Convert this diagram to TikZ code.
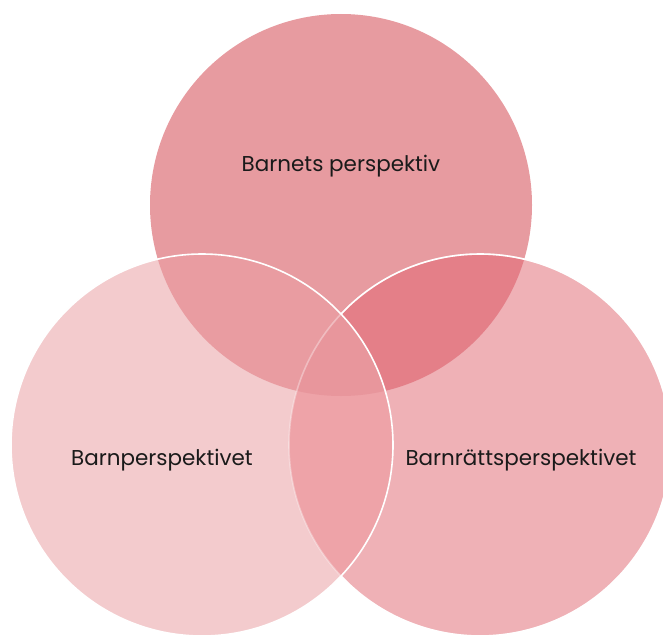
\documentclass[tikz,border=0pt]{standalone}
\usepackage{fontspec}
\setmainfont{Poppins}
\definecolor{topfill}{HTML}{E79BA0}
\definecolor{leftfill}{HTML}{F3CBCD}
\definecolor{rightfill}{HTML}{EFB1B6}
\definecolor{toprightfill}{HTML}{E47F88}
\definecolor{topleftfill}{HTML}{E99CA1}
\definecolor{leftrightfill}{HTML}{EEA3A8}
\definecolor{allfill}{HTML}{E8969C}
\definecolor{labeltext}{HTML}{1A1A1A}
\tikzset{every picture/.style={line width=0.75pt}}
\tikzset{
  outline/.style={draw=white, line width=1.2pt},
  setlabel/.style={inner sep=0.75pt, text=labeltext, font=\fontsize{16.1}{19}\selectfont}
}

\begin{document}
\begin{tikzpicture}[x=0.75pt,y=0.75pt,yscale=-1,xscale=1]
	\useasboundingbox (0,0) rectangle (663,635);
	\clip (0,0) rectangle (663,635);
	\coordinate (topc) at (341,205);
	\coordinate (leftc) at (202,445);
	\coordinate (rightc) at (480,445);
	
	%Shape: Circle [top]
	\fill [topfill] (topc) circle (191);
	%Shape: Circle [right]
	\fill [rightfill] (rightc) circle (191);
	%Shape: Circle [left]
	\fill [leftfill] (leftc) circle (191);
	%overlaps
	\begin{scope}
		\clip (topc) circle (191);
		\fill [toprightfill] (rightc) circle (191);
		\fill [topleftfill] (leftc) circle (191);
	\end{scope}
	\begin{scope}
		\clip (leftc) circle (191);
		\fill [leftrightfill] (rightc) circle (191);
		\clip (topc) circle (191);
		\fill [allfill] (rightc) circle (191);
	\end{scope}
	%outlines
	\draw [outline, draw opacity=0.35] (rightc) circle (191);
	\draw [outline] (rightc) ++(-136.7:191) arc (-136.7:136.7:191);
	\draw [outline] (leftc) circle (191);
	
	\node [setlabel] (toplabel) at (341,166) {Barnets perspektiv};
	\node [setlabel] (leftlabel) at (162,460) {Barnperspektivet};
	\node [setlabel] (rightlabel) at (521,460) {Barnrättsperspektivet};
\end{tikzpicture}
\end{document}
